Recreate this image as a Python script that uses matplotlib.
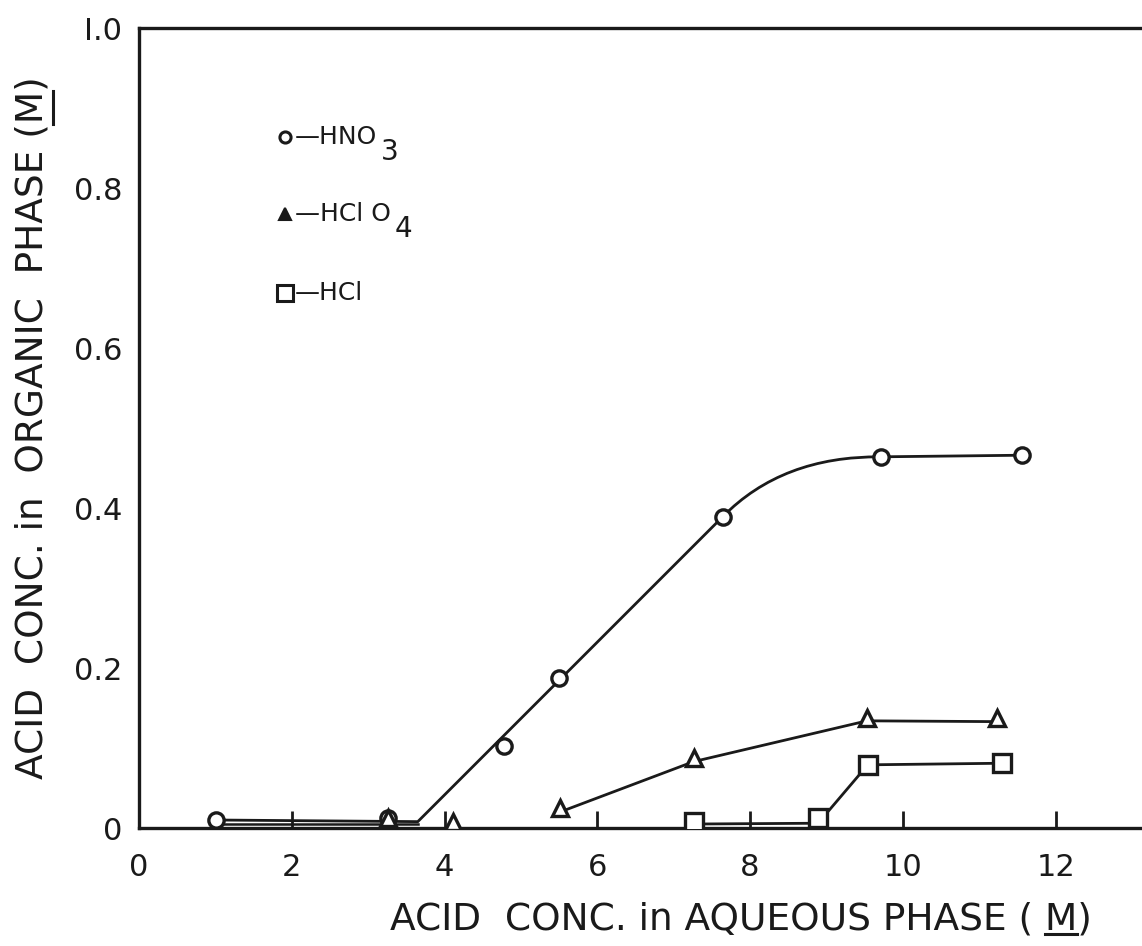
import matplotlib
matplotlib.use("Agg")
import matplotlib.pyplot as plt
from matplotlib.path import Path
from matplotlib.patches import PathPatch
from matplotlib.lines import Line2D

# values (aqueous M, organic M)
hno3_x = [1.01, 3.26, 4.78, 5.50, 7.64, 9.71, 11.56]
hno3_y = [0.010, 0.012, 0.103, 0.188, 0.389, 0.464, 0.466]

hclo4_x = [3.26, 4.11, 5.51, 7.26, 9.53, 11.23]
hclo4_y = [0.012, 0.007, 0.025, 0.087, 0.138, 0.137]

hcl_x = [7.26, 8.89, 9.54, 11.30]
hcl_y = [0.007, 0.013, 0.079, 0.081]

# hand drawn curve through the HNO3 points (knots)
curve_x = [1.05, 3.65, 7.64, 8.42, 9.71, 11.56]
curve_y = [0.010, 0.008, 0.389, 0.465, 0.464, 0.466]
# second thin stroke along the bottom
low_x = [1.10, 3.65]
low_y = [0.005, 0.005]

# segments of the other two curves
hclo4_line_x = [5.51, 7.26, 9.53, 11.23]
hclo4_line_y = [0.020, 0.083, 0.134, 0.133]
hcl_line_x = [7.26, 8.89, 9.54, 11.30]
hcl_line_y = [0.005, 0.006, 0.079, 0.081]

xticks = [0, 2, 4, 6, 8, 10, 12]
yticks = [0, 0.2, 0.4, 0.6, 0.8, 1.0]
ytick_labels = ["0", "0.2", "0.4", "0.6", "0.8", "I.0"]

plt.rcParams["font.family"] = ["DejaVu Sans"]

fig = plt.figure(figsize=(11.42, 9.46), dpi=100)
ax = fig.add_axes([0.1217, 0.1247, 0.8783, 0.8457])
ax.set_xlim(0, 13.13)
ax.set_ylim(0, 1.0)

lw = 2.0
ink = "#1a1a1a"

# HNO3 curve: straight pieces + one quadratic bend
verts = list(zip(curve_x, curve_y))
codes = [Path.MOVETO, Path.LINETO, Path.LINETO, Path.CURVE3, Path.CURVE3, Path.LINETO]
ax.add_patch(PathPatch(Path(verts, codes), fill=False, lw=lw, ec=ink, zorder=2))
ax.plot(low_x, low_y, color=ink, lw=1.8, zorder=2)

ax.plot(hclo4_line_x, hclo4_line_y, color=ink, lw=lw, zorder=2)
ax.plot(hcl_line_x, hcl_line_y, color=ink, lw=lw, zorder=2)

ax.plot(hno3_x, hno3_y, ls="none", marker="o", ms=11, mfc="white", mec=ink, mew=2.4, zorder=3)
ax.plot(hclo4_x, hclo4_y, ls="none", marker="^", ms=12, mfc="white", mec=ink, mew=2.4, zorder=3)
ax.plot(hcl_x, hcl_y, ls="none", marker="s", ms=13, mfc="white", mec=ink, mew=2.4, zorder=3)

# key written inside the plot
kx = 1.91
ax.plot([kx], [0.864], ls="none", marker="o", ms=8, mfc="white", mec=ink, mew=2.2)
ax.plot([kx], [0.768], ls="none", marker="^", ms=8, mfc=ink, mec=ink, mew=1.5)
ax.plot([kx], [0.669], ls="none", marker="s", ms=11, mfc="white", mec=ink, mew=2.2)
kw = dict(fontsize=18, color=ink, va="center", ha="left")
t1 = ax.text(kx + 0.13, 0.864, "—HNO", **kw)
t2 = ax.text(kx + 0.13, 0.768, "—HCl O", **kw)
ax.text(kx + 0.13, 0.669, "—HCl", **kw)
ax.annotate("3", xy=(1, 0.5), xycoords=t1, xytext=(3, -11), textcoords="offset points",
            fontsize=20, color=ink, va="center", ha="left")
ax.annotate("4", xy=(1, 0.5), xycoords=t2, xytext=(3, -11), textcoords="offset points",
            fontsize=20, color=ink, va="center", ha="left")

for s in ["left", "bottom", "top"]:
    ax.spines[s].set_linewidth(2.4)
    ax.spines[s].set_color(ink)
ax.spines["right"].set_visible(False)

ax.set_xticks(xticks)
ax.set_xticklabels([str(t) for t in xticks])
ax.tick_params(axis="x", direction="in", length=12, width=2, pad=18,
               labelsize=22, colors=ink)
ax.set_yticks(yticks)
ax.set_yticklabels(ytick_labels)
ax.tick_params(axis="y", length=0, pad=12, labelsize=22, colors=ink)

lab_size = 27
xl = ax.set_xlabel("ACID  CONC. in AQUEOUS PHASE ( M)",
                   fontsize=lab_size, color=ink, labelpad=14, x=0.6)
yl = ax.set_ylabel("ACID  CONC. in  ORGANIC  PHASE (M)",
                   fontsize=lab_size, color=ink, labelpad=17, y=0.5)

# underline the M in both labels (mathtext has no \underline)
fig.canvas.draw()
r = fig.canvas.get_renderer()


def width_of(s, size):
    t = fig.text(0, 0, s, fontsize=size)
    w = t.get_window_extent(r).width
    t.remove()
    return w


W, H = fig.bbox.width, fig.bbox.height
wp = width_of(")", lab_size)
wm = width_of("M", lab_size)

bb = xl.get_window_extent(r)
x1 = bb.x1 - wp
x0 = x1 - wm
yb = bb.y0 + 3
fig.add_artist(Line2D([x0 / W, x1 / W], [yb / H, yb / H], color=ink, lw=2.2))

bb = yl.get_window_extent(r)
y1 = bb.y1 - wp
y0 = y1 - wm
xb = bb.x1 + 3
fig.add_artist(Line2D([xb / W, xb / W], [y0 / H, y1 / H], color=ink, lw=2.2))

fig.savefig("out.png", dpi=100, facecolor="white")
